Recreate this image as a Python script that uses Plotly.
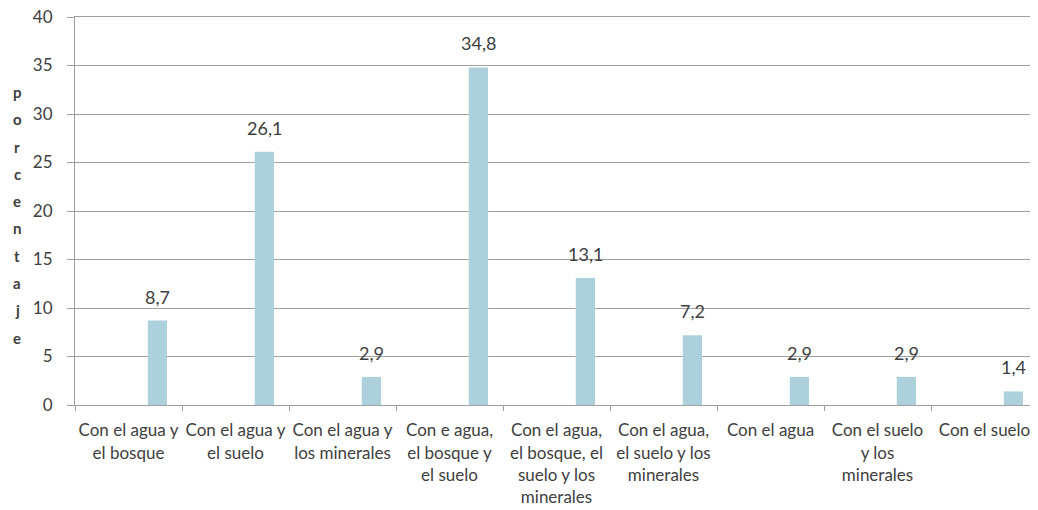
import plotly.graph_objects as go

# ======================================================
# Data
# ======================================================
categorias = [
    "Con el agua y<br>el bosque",
    "Con el agua y<br>el suelo",
    "Con el agua y<br>los minerales",
    "Con e agua,<br>el bosque y<br>el suelo",
    "Con el agua,<br>el bosque, el<br>suelo y los<br>minerales",
    "Con el agua,<br>el suelo y los<br>minerales",
    "Con el agua",
    "Con el suelo<br>y los<br>minerales",
    "Con el suelo",
]
porcentaje = [8.7, 26.1, 2.9, 34.8, 13.1, 7.2, 2.9, 2.9, 1.4]
titulo_y = "porcentaje"

etiquetas = [f"{v:.1f}".replace(".", ",") for v in porcentaje]

GRID = "#A0A0A0"
TEXT = "#404040"
FONT = "Lato, Open Sans, sans-serif"
BAR_W = 0.18
BAR_OFF = 0.18

# page body adds an 8px margin, so the figure is 8px smaller
W, H = 1030, 502
ML, MT, MB, MR = 67, 9, 105, 0
CAT_PX = (W - ML - MR) / len(categorias)
PLOT_H = H - MT - MB

# ======================================================
# Figure
# ======================================================
fig = go.Figure()

fig.add_trace(
    go.Bar(
        x=categorias,
        y=porcentaje,
        marker=dict(color="#ADD0DD", line=dict(width=0)),
        width=BAR_W,
        offset=BAR_OFF,
        hoverinfo="x+y",
    )
)

# value labels above bars
for cat, val, lab in zip(categorias, porcentaje, etiquetas):
    fig.add_annotation(
        x=cat, y=val, text=lab,
        xanchor="center", yanchor="bottom",
        xshift=(BAR_OFF + BAR_W / 2) * CAT_PX,
        yshift=11,
        showarrow=False,
        font=dict(size=18, color=TEXT, family=FONT),
    )

# vertical stacked letters for y title
for i, ch in enumerate(titulo_y):
    fig.add_annotation(
        text=f"<b>{ch}</b>",
        xref="paper", yref="paper",
        x=(9 - ML) / (W - ML - MR),
        y=1 - (92 - 17 + i * 27.3) / PLOT_H,
        xanchor="center", yanchor="middle",
        showarrow=False,
        font=dict(size=15, color=TEXT, family=FONT),
    )

fig.update_layout(
    width=W,
    height=H,
    margin=dict(l=ML, r=MR, t=MT, b=MB),
    plot_bgcolor="white",
    paper_bgcolor="white",
    showlegend=False,
    font=dict(family=FONT, color=TEXT),
    xaxis=dict(
        type="category",
        automargin=False,
        tickson="boundaries",
        ticks="outside",
        ticklen=5,
        tickcolor=GRID,
        showline=True,
        mirror=True,  # top line doubles as the 40 gridline
        linecolor=GRID,
        linewidth=1,
        showgrid=False,
        tickfont=dict(size=17, color=TEXT, family=FONT),
        tickangle=0,
        ticklabelstandoff=10,
        ticklabeloverflow="allow",
    ),
    yaxis=dict(
        range=[0, 40],
        dtick=5,
        automargin=False,
        ticks="outside",
        ticklen=7,
        tickcolor=GRID,
        showline=True,
        linecolor=GRID,
        linewidth=1,
        showgrid=True,
        gridcolor=GRID,
        gridwidth=1,
        zeroline=False,
        tickfont=dict(size=17, color=TEXT, family=FONT),
        ticklabelstandoff=11,
        ticklabeloverflow="allow",
    ),
)

fig.write_html("out.html")
